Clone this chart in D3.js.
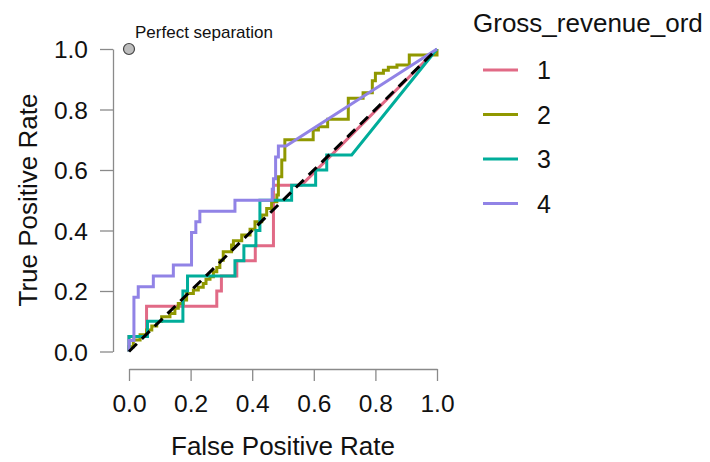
<!DOCTYPE html>
<html>
<head>
  <meta charset="utf-8">
  <title>ROC curves</title>
  <script src="https://d3js.org/d3.v7.min.js"></script>
  <style>
    body { margin: 0; background: #fff; }
    text { font-family: "Liberation Sans", Arial, sans-serif; fill: #111; }
  </style>
</head>
<body>
  <div id="chart"></div>

  <script>
    // tick values
    var fprTicks = [0, 0.2, 0.4, 0.6, 0.8, 1.0];
    var tprTicks = [0, 0.2, 0.4, 0.6, 0.8, 1.0];

    // groups and colours
    var groups = ['1', '2', '3', '4'];
    var colors = ['#E16A86', '#909800', '#00AD9A', '#9183E6'];

    // ROC vertices [fpr, tpr]
    var roc1 = [[0,0],[0,0.05],[0.057,0.05],[0.057,0.15],[0.285,0.15],[0.285,0.20],[0.30,0.20],[0.30,0.25],
      [0.35,0.25],[0.35,0.30],[0.41,0.30],[0.41,0.35],[0.469,0.35],[0.469,0.55],[0.56,0.55],[1,1]];

    var roc2 = [[0,0],[0,0.016],[0.014,0.016],[0.014,0.038],[0.036,0.038],[0.036,0.055],[0.057,0.055],
      [0.057,0.071],[0.074,0.071],[0.074,0.084],[0.09,0.084],[0.09,0.099],[0.106,0.099],[0.106,0.115],
      [0.133,0.115],[0.133,0.126],[0.149,0.126],[0.149,0.143],[0.16,0.143],[0.16,0.159],[0.176,0.159],
      [0.176,0.17],[0.187,0.17],[0.187,0.192],[0.209,0.192],[0.209,0.203],[0.225,0.203],[0.225,0.212],
      [0.241,0.212],[0.241,0.225],[0.25,0.225],[0.25,0.239],[0.263,0.239],[0.263,0.247],[0.274,0.247],
      [0.274,0.264],[0.285,0.264],[0.285,0.278],[0.295,0.278],[0.295,0.302],[0.306,0.302],[0.306,0.33],
      [0.333,0.33],[0.333,0.352],[0.339,0.352],[0.339,0.366],[0.366,0.366],[0.366,0.385],[0.393,0.385],
      [0.393,0.404],[0.409,0.404],[0.409,0.429],[0.431,0.429],[0.431,0.451],[0.447,0.451],[0.447,0.473],
      [0.463,0.473],[0.463,0.495],[0.48,0.495],[0.48,0.517],[0.485,0.517],[0.485,0.578],[0.496,0.578],
      [0.496,0.633],[0.506,0.633],[0.506,0.70],[0.598,0.70],[0.598,0.732],[0.615,0.732],[0.615,0.743],
      [0.645,0.743],[0.645,0.768],[0.712,0.768],[0.712,0.837],[0.76,0.837],[0.76,0.855],[0.79,0.855],
      [0.79,0.895],[0.80,0.895],[0.80,0.92],[0.826,0.92],[0.826,0.93],[0.842,0.93],[0.842,0.94],
      [0.87,0.94],[0.87,0.947],[0.91,0.947],[0.91,0.98],[1,0.98],[1,1]];

    var roc3 = [[0,0],[0,0.05],[0.06,0.05],[0.06,0.10],[0.175,0.10],[0.175,0.20],[0.19,0.20],[0.19,0.25],
      [0.344,0.25],[0.344,0.30],[0.373,0.30],[0.373,0.35],[0.412,0.35],[0.412,0.40],[0.425,0.40],
      [0.425,0.50],[0.528,0.50],[0.528,0.55],[0.606,0.55],[0.606,0.60],[0.642,0.60],[0.642,0.65],
      [0.723,0.65],[1,1]];

    var roc4 = [[0,0],[0,0.036],[0.016,0.036],[0.016,0.179],[0.03,0.179],[0.03,0.214],[0.079,0.214],
      [0.079,0.25],[0.144,0.25],[0.144,0.286],[0.203,0.286],[0.203,0.393],[0.217,0.393],[0.217,0.429],
      [0.23,0.429],[0.23,0.464],[0.344,0.464],[0.344,0.50],[0.465,0.50],[0.465,0.536],[0.469,0.536],
      [0.469,0.571],[0.476,0.571],[0.476,0.643],[0.485,0.643],[0.485,0.679],[0.51,0.679],[1,1]];

    var curves = [roc1, roc2, roc3, roc4];

    var svg = d3.select('#chart').append('svg')
      .attr('width', 710)
      .attr('height', 462);

    var x = d3.scaleLinear().domain([0, 1]).range([129, 437]);
    var y = d3.scaleLinear().domain([0, 1]).range([351.5, 49]);

    // x axis, detached below the plot
    var xAxis = svg.append('g')
      .attr('transform', 'translate(0,369)')
      .call(d3.axisBottom(x).tickValues(fprTicks).tickFormat(d3.format('.1f'))
        .tickSize(12).tickSizeOuter(0));
    xAxis.selectAll('text').attr('y', 43).attr('dy', 0).attr('font-size', 24.5);

    // y axis, detached left of the plot
    var yAxis = svg.append('g')
      .attr('transform', 'translate(113,0)')
      .call(d3.axisLeft(y).tickValues(tprTicks).tickFormat(d3.format('.1f'))
        .tickSize(13).tickSizeOuter(0).tickPadding(12));
    yAxis.selectAll('text').attr('font-size', 24.5).attr('dy', '0.36em');

    svg.selectAll('.domain, .tick line')
      .attr('stroke', '#8a8a8a')
      .attr('stroke-width', 1.3);
    svg.selectAll('.tick text').attr('fill', '#111').style('font-family', '"Liberation Sans", Arial, sans-serif');

    // axis titles
    svg.append('text')
      .attr('x', 283)
      .attr('y', 455)
      .attr('text-anchor', 'middle')
      .attr('font-size', 26)
      .text('False Positive Rate');

    svg.append('text')
      .attr('transform', 'translate(37,200) rotate(-90)')
      .attr('text-anchor', 'middle')
      .attr('font-size', 26)
      .text('True Positive Rate');

    // curves
    var line = d3.line()
      .x(function(d) { return x(d[0]); })
      .y(function(d) { return y(d[1]); });

    svg.selectAll('.roc')
      .data(curves)
      .enter()
      .append('path')
      .attr('class', 'roc')
      .attr('d', line)
      .attr('fill', 'none')
      .attr('stroke', function(d, i) { return colors[i]; })
      .attr('stroke-width', 3)
      .attr('stroke-linejoin', 'miter');

    // chance line
    svg.append('path')
      .attr('d', line([[0, 0], [1, 1]]))
      .attr('fill', 'none')
      .attr('stroke', '#000')
      .attr('stroke-width', 3)
      .attr('stroke-dasharray', '11,7');

    // perfect separation marker
    svg.append('circle')
      .attr('cx', x(0))
      .attr('cy', y(1))
      .attr('r', 5.5)
      .attr('fill', '#bdbdbd')
      .attr('stroke', '#444')
      .attr('stroke-width', 1.2);

    svg.append('text')
      .attr('x', x(0) + 6)
      .attr('y', y(1) - 11)
      .attr('font-size', 17)
      .text('Perfect separation');

    // legend
    var legend = svg.append('g').attr('transform', 'translate(473,0)');
    legend.append('text')
      .attr('x', 0)
      .attr('y', 32)
      .attr('font-size', 26)
      .text('Gross_revenue_ord');

    var items = legend.selectAll('.item')
      .data(groups)
      .enter()
      .append('g')
      .attr('class', 'item')
      .attr('transform', function(d, i) { return 'translate(0,' + (70 + i * 44.5) + ')'; });

    items.append('line')
      .attr('x1', 10).attr('x2', 45)
      .attr('stroke', function(d, i) { return colors[i]; })
      .attr('stroke-width', 3);

    items.append('text')
      .attr('x', 64)
      .attr('dy', '0.36em')
      .attr('font-size', 25)
      .text(function(d) { return d; });
  </script>
</body>
</html>
